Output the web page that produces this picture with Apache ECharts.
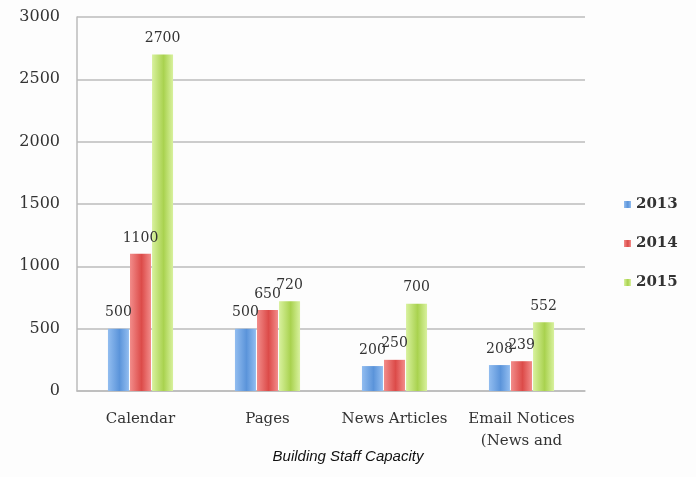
<!DOCTYPE html>
<html><head><meta charset="utf-8">
<script src="https://cdn.jsdelivr.net/npm/echarts@6/dist/echarts.min.js"></script>
<style>html,body{margin:0;padding:0;background:#fff;}#c{width:696px;height:477px;}</style>
</head><body><div id="c"></div>
<script>
const categories = ['Calendar', 'Pages', 'News Articles', 'Email Notices\n(News and'];
const seriesNames = ['2013', '2014', '2015'];
const v2013 = [500, 500, 200, 208];
const v2014 = [1100, 650, 250, 239];
const v2015 = [2700, 720, 700, 552];
const yTicks = [0, 500, 1000, 1500, 2000, 2500, 3000];

const serif = '"DejaVu Serif", "Liberation Serif", serif';
function grad(a, b) {
  return new echarts.graphic.LinearGradient(0, 0, 1, 0, [
    {offset: 0, color: a}, {offset: 0.55, color: b}, {offset: 1, color: a}
  ]);
}
const colors = [grad('#92bdf0', '#5b94da'), grad('#f28c8a', '#dc4b49'), grad('#d8f19e', '#a9d24f')];
const legendColors = ['#6a9fe0', '#e26664', '#b5da66'];
const vals = [v2013, v2014, v2015];

const chart = echarts.init(document.getElementById('c'));
chart.setOption({
  backgroundColor: '#fdfdfd',
  animation: false,
  color: legendColors,
  title: {
    text: 'Building Staff Capacity', left: 'center', bottom: 8,
    textStyle: {fontFamily: 'Arial, "Liberation Sans", sans-serif', fontStyle: 'italic', fontWeight: 'normal', fontSize: 15, color: '#111'}
  },
  legend: {
    orient: 'vertical', left: 619, top: 192, itemGap: 24, itemWidth: 7, itemHeight: 7,
    icon: 'rect',
    textStyle: {fontFamily: serif, fontSize: 15, color: '#333', fontWeight: 'bold'},
    data: seriesNames
  },
  grid: {left: 77, right: 111, top: 17, bottom: 86, containLabel: false},
  xAxis: {
    type: 'category', data: categories,
    axisLine: {lineStyle: {color: '#bbb', width: 1.5}},
    axisTick: {show: false},
    axisLabel: {fontFamily: serif, fontSize: 15, color: '#333', margin: 17, lineHeight: 22, interval: 0}
  },
  yAxis: {
    type: 'value', min: 0, max: 3000, interval: 500,
    axisLine: {show: true, lineStyle: {color: '#bbb', width: 1.5}},
    axisTick: {show: false},
    splitLine: {lineStyle: {color: '#bbb', width: 1.5}},
    axisLabel: {fontFamily: serif, fontSize: 16, color: '#333', margin: 17,
      formatter: v => yTicks.includes(v) ? String(v) : ''}
  },
  series: seriesNames.map((n, i) => ({
    name: n, type: 'bar', data: vals[i],
    barWidth: 21, barGap: '5%',
    itemStyle: {color: colors[i]},
    label: {show: true, position: 'top', distance: 9, fontFamily: serif, fontSize: 14, color: '#333'}
  }))
});
</script></body></html>
